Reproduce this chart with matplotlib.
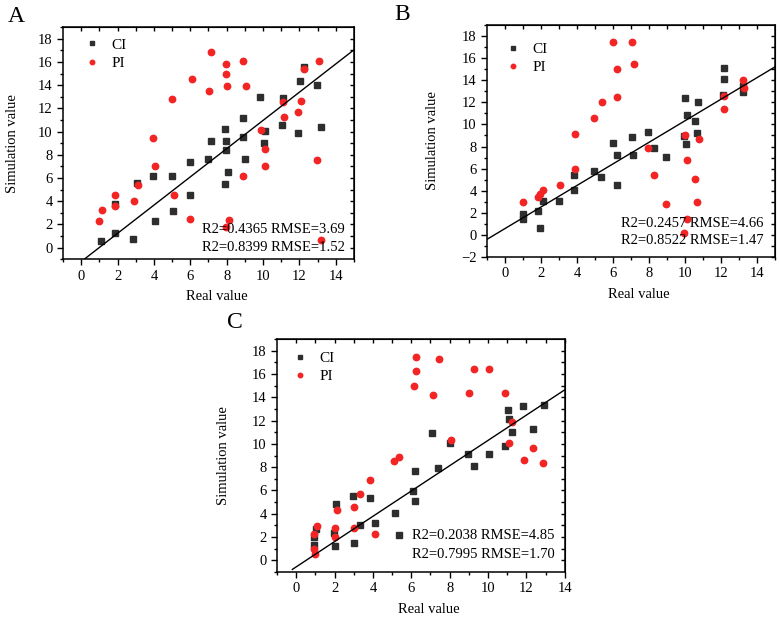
import numpy as np
import matplotlib
matplotlib.use("Agg")
from matplotlib import pyplot as plt
from matplotlib.ticker import MultipleLocator

plt.rcParams['font.family'] = ['Liberation Serif', 'DejaVu Serif']

# ---- panel A ----
a_ci_x = [1.09, 1.86, 1.86, 2.86, 3.08, 3.97, 4.04, 5.02, 5.05, 5.98, 5.98, 6.97, 7.12, 7.95, 7.91, 8.10,
          7.99, 7.91, 8.89, 8.89, 9.02, 9.85, 10.07, 10.09, 11.05, 11.10, 11.91, 12.03, 12.23, 12.95, 13.17]
a_ci_y = [0.54, 1.27, 3.74, 0.75, 5.57, 6.18, 2.30, 6.18, 3.19, 7.35, 4.57, 7.61, 9.16, 8.42, 5.46, 6.47,
          9.16, 10.23, 9.51, 11.20, 7.67, 12.96, 9.02, 10.06, 10.60, 12.93, 9.85, 14.40, 15.60, 14.03, 10.43]
a_pi_x = [1.00, 1.12, 1.88, 1.88, 2.92, 3.12, 4.08, 3.97, 5.02, 5.09, 5.98, 6.07, 7.01, 7.12, 7.97, 7.97, 8.00,
          8.91, 9.04, 7.95, 8.13, 8.91, 9.89, 10.09, 10.09, 11.07, 11.14, 11.94, 12.08, 12.25, 13.10, 12.95, 13.19]
a_pi_y = [2.27, 3.25, 3.56, 4.57, 4.05, 5.40, 7.07, 9.42, 12.78, 4.57, 2.47, 14.50, 13.47, 16.84, 15.86, 14.97, 13.90,
          16.12, 13.90, 1.81, 2.41, 6.15, 10.17, 8.53, 7.04, 12.59, 11.23, 11.72, 12.65, 15.40, 16.06, 7.53, 0.63]
a_fit = (1.217, -1.21)
a_stats = ["R2=0.4365 RMSE=3.69", "R2=0.8399 RMSE=1.52"]

# ---- panel B ----
b_ci_x = [1.00, 1.00, 1.86, 1.97, 2.12, 3.00, 3.86, 3.84, 4.93, 5.33, 6.21, 6.02, 6.24, 7.14, 7.07, 7.97, 8.26,
          8.95, 9.96, 10.07, 10.66, 10.57, 10.09, 10.00, 10.72, 12.14, 12.16, 12.16, 13.21, 13.23]
b_ci_y = [1.92, 1.44, 2.19, 0.65, 3.07, 3.07, 4.06, 5.45, 5.76, 5.27, 4.49, 8.34, 7.26, 7.26, 8.86, 9.28, 7.86,
          7.08, 8.92, 8.25, 9.25, 10.31, 10.85, 12.42, 12.05, 12.63, 14.08, 15.08, 13.48, 12.90]
b_pi_x = [1.01, 1.86, 1.97, 2.12, 3.04, 3.89, 3.87, 4.93, 5.37, 6.24, 6.24, 6.03, 7.07, 7.18, 7.93, 8.30, 8.97,
          9.96, 10.09, 10.66, 10.57, 10.11, 10.02, 10.79, 12.16, 12.17, 13.21, 13.26]
b_pi_y = [2.98, 3.43, 3.70, 4.09, 4.49, 5.99, 9.16, 10.58, 12.00, 12.51, 14.99, 17.49, 17.43, 15.47, 7.85, 5.45, 2.80,
          0.17, 1.41, 2.95, 5.09, 6.75, 9.04, 8.65, 11.42, 12.57, 13.99, 13.27]
b_fit = (0.975, 0.575)
b_stats = ["R2=0.2457 RMSE=4.66", "R2=0.8522 RMSE=1.47"]

# ---- panel C ----
c_ci_x = [0.91, 0.92, 1.03, 1.97, 2.02, 2.05, 2.96, 3.01, 3.31, 3.83, 4.09, 5.13, 5.34, 6.09, 6.21, 6.21, 7.10,
          7.40, 8.03, 8.95, 9.28, 10.06, 10.87, 11.05, 11.10, 11.24, 11.82, 12.32, 12.92]
c_ci_y = [2.00, 1.35, 2.69, 2.32, 1.23, 4.81, 5.52, 1.49, 3.06, 5.35, 3.18, 4.06, 2.17, 5.94, 5.09, 7.65, 10.96,
          7.95, 10.06, 9.16, 8.06, 9.10, 9.86, 12.88, 12.15, 11.03, 13.26, 11.32, 13.35]
c_pi_x = [0.94, 1.08, 0.91, 0.98, 2.02, 2.04, 2.12, 2.99, 3.04, 3.34, 3.86, 4.09, 5.12, 5.36, 6.13, 6.23, 6.27,
          7.14, 7.45, 8.05, 8.99, 9.28, 10.06, 10.90, 11.08, 11.23, 11.85, 12.34, 12.88]
c_pi_y = [2.29, 2.94, 0.94, 0.51, 2.77, 2.00, 4.35, 4.58, 2.81, 5.73, 6.89, 2.23, 8.56, 8.87, 14.97, 16.26, 17.50,
          14.19, 17.30, 10.35, 14.36, 16.40, 16.40, 14.38, 10.06, 11.86, 8.63, 9.63, 8.35]
c_fit = (1.086, -0.56)
c_stats = ["R2=0.2038 RMSE=4.85", "R2=0.7995 RMSE=1.70"]

ci_color = '#2e2e2e'
pi_color = '#f22424'

fig = plt.figure(figsize=(7.8, 6.17), dpi=100)

panels = [
    # letter, axes rect, data, fit, fit x-range, xlim, ylim, ytick start, stats, stats pos, legend anchor, ylabel x, letter pos
    ('A', [0.0808, 0.580, 0.373, 0.376], (a_ci_x, a_ci_y, a_pi_x, a_pi_y), a_fit, (-1, 15), (-1, 15), (-1, 19), 0,
     a_stats, (0.969, 0.129, 0.052), (0.02, 1.013), -0.151, (0.0205, 0.973)),
    ('B', [0.6244, 0.5835, 0.369, 0.376], (b_ci_x, b_ci_y, b_pi_x, b_pi_y), b_fit, (-1, 15), (-1, 15), (-2, 19), -2,
     b_stats, (0.959, 0.145, 0.069), (0.01, 0.985), -0.167, (0.516, 0.977)),
    ('C', [0.3551, 0.0729, 0.369, 0.3776], (c_ci_x, c_ci_y, c_pi_x, c_pi_y), c_fit, (-0.2, 14), (-1, 14), (-1, 19), 0,
     c_stats, (0.965, 0.155, 0.077), (0.0, 1.006), -0.163, (0.301, 0.478)),
]

for (letter, rect, pts, fit, fx, xlim, ylim, y0, stats, spos, lanchor, ylx, lpos) in panels:
    ax = fig.add_axes(rect)
    ci_x, ci_y, pi_x, pi_y = pts
    ax.plot(ci_x, ci_y, ls='none', marker='s', ms=4.2, color=ci_color, label='CI')
    ax.plot(pi_x, pi_y, ls='none', marker='o', ms=4.6, color=pi_color, label='PI')
    xx = np.array(fx)
    ax.plot(xx, fit[0] * xx + fit[1], color='black', lw=1.0)
    ax.set_xlim(*xlim)
    ax.set_ylim(*ylim)
    ax.set_xticks(np.arange(0, 15, 2))
    ax.set_yticks(np.arange(y0, 19, 2))
    ax.xaxis.set_minor_locator(MultipleLocator(1))
    ax.yaxis.set_minor_locator(MultipleLocator(1))
    ax.tick_params(which='major', direction='out', length=4, width=1, labelsize=10.5)
    ax.tick_params(which='minor', direction='out', length=2, width=1)
    for sp in ax.spines.values():
        sp.set_linewidth(1.1)

    top = ax.secondary_xaxis('top')
    top.set_xticks(np.arange(0, 15, 1))
    top.tick_params(direction='in', length=3, width=1, labeltop=False)
    right = ax.secondary_yaxis('right')
    right.set_yticks(np.arange(y0, 19, 1))
    right.tick_params(direction='in', length=3, width=1, labelright=False)

    ax.set_xlabel('Real value', fontsize=10.5)
    ax.set_ylabel('Simulation value', fontsize=10.5)
    ax.xaxis.set_label_coords(0.527, -0.133)
    ax.yaxis.set_label_coords(ylx, 0.5)

    ax.text(spos[0], spos[1], stats[0], transform=ax.transAxes, ha='right', va='center', fontsize=10.5)
    ax.text(spos[0], spos[2], stats[1], transform=ax.transAxes, ha='right', va='center', fontsize=10.5)

    ax.legend(loc='upper left', bbox_to_anchor=lanchor, frameon=False, fontsize=11,
              markerscale=0.7, handlelength=1.2, handletextpad=0.7, labelspacing=0.3)

    fig.text(lpos[0], lpos[1], letter, ha='center', va='center', fontsize=17)

fig.savefig('out.png', dpi=100)
